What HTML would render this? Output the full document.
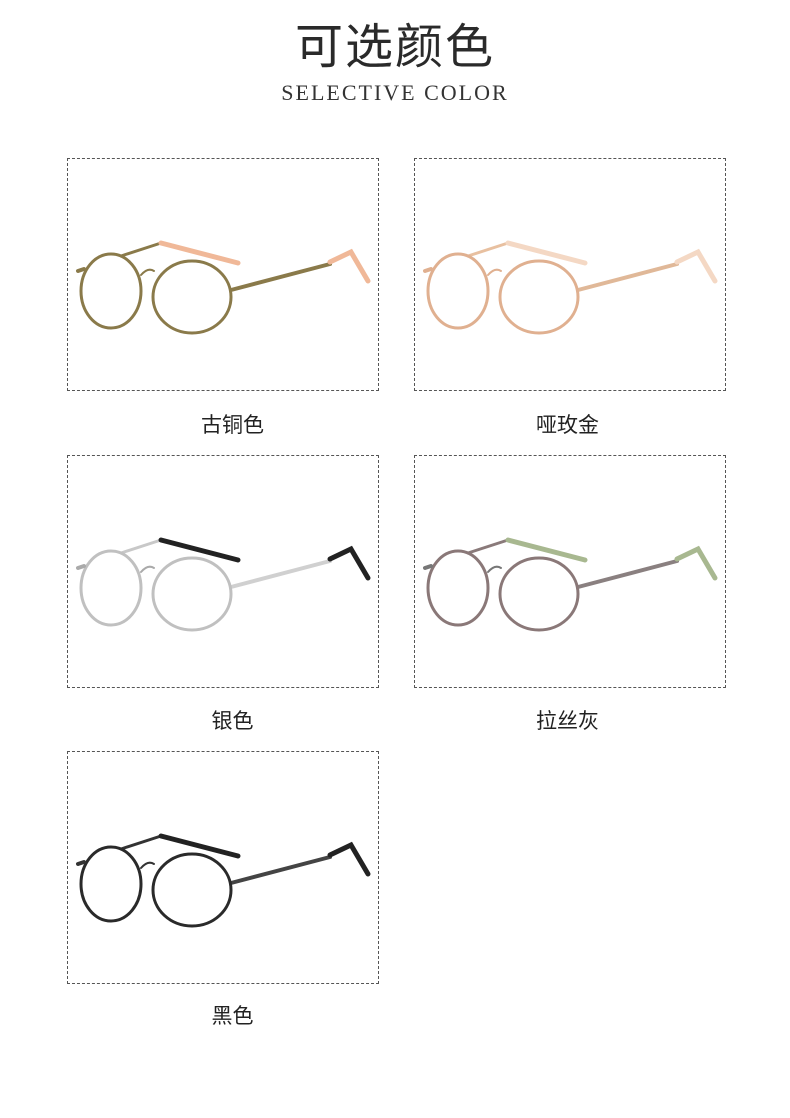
<!DOCTYPE html>
<html><head><meta charset="utf-8"><style>
body{margin:0;width:790px;height:1118px;background:#fff;position:relative;overflow:hidden;font-family:"Liberation Sans","Noto Sans CJK SC",sans-serif}
.t{position:absolute;left:0;width:790px;text-align:center}
.box{position:absolute;width:312px;height:233px;border:1px dashed #555;box-sizing:border-box}
.lab{position:absolute;width:313px;text-align:center;font-size:21px;color:#222}
svg{position:absolute;left:0;top:0}
</style></head><body>
<div class="t" style="top:7px;font-size:48px;color:#2a2a2a;letter-spacing:2px">可选颜色</div>
<div class="t" style="top:80px;font-family:'Liberation Serif',serif;font-size:22px;letter-spacing:2px;color:#333">SELECTIVE COLOR</div>

<div class="box" style="left:67px;top:158px"><svg width="312" height="233"><g fill="none" stroke-linecap="round">
<path d="M53 97 L93 84" stroke="#8a7a4a" stroke-width="3"/><path d="M93 84 L170 104" stroke="#f0b898" stroke-width="5"/>
<path d="M163 131 L262 105" stroke="#8a7a4a" stroke-width="4"/><path d="M262 103 L283 93 L300 122" stroke="#f0b898" stroke-width="5"/>
<ellipse cx="43" cy="132" rx="30" ry="37" stroke="#8a7a4a" stroke-width="3"/><ellipse cx="124" cy="138" rx="39" ry="36" stroke="#8a7a4a" stroke-width="3"/>
<path d="M73 116 Q80 108 86 112" stroke="#8a7a4a" stroke-width="2"/><path d="M10 112 L16 110" stroke="#8a7a4a" stroke-width="4"/></g></svg></div>
<div class="lab" style="left:76px;top:409px">古铜色</div>

<div class="box" style="left:414px;top:158px"><svg width="312" height="233"><g fill="none" stroke-linecap="round">
<path d="M53 97 L93 84" stroke="#e8c0a0" stroke-width="3"/><path d="M93 84 L170 104" stroke="#f4d8c4" stroke-width="5"/>
<path d="M163 131 L262 105" stroke="#e0b898" stroke-width="4"/><path d="M262 103 L283 93 L300 122" stroke="#f4d8c4" stroke-width="5"/>
<ellipse cx="43" cy="132" rx="30" ry="37" stroke="#e0b090" stroke-width="3"/><ellipse cx="124" cy="138" rx="39" ry="36" stroke="#e0b090" stroke-width="3"/>
<path d="M73 116 Q80 108 86 112" stroke="#e0b090" stroke-width="2"/><path d="M10 112 L16 110" stroke="#e0b090" stroke-width="4"/></g></svg></div>
<div class="lab" style="left:411px;top:409px">哑玫金</div>

<div class="box" style="left:67px;top:455px"><svg width="312" height="233"><g fill="none" stroke-linecap="round">
<path d="M53 97 L93 84" stroke="#c8c8c8" stroke-width="3"/><path d="M93 84 L170 104" stroke="#222" stroke-width="5"/>
<path d="M163 131 L262 105" stroke="#d0d0d0" stroke-width="4"/><path d="M262 103 L283 93 L300 122" stroke="#222" stroke-width="5"/>
<ellipse cx="43" cy="132" rx="30" ry="37" stroke="#c0c0c0" stroke-width="3"/><ellipse cx="124" cy="138" rx="39" ry="36" stroke="#c0c0c0" stroke-width="3"/>
<path d="M73 116 Q80 108 86 112" stroke="#aaa" stroke-width="2"/><path d="M10 112 L16 110" stroke="#aaa" stroke-width="4"/></g></svg></div>
<div class="lab" style="left:76px;top:705px">银色</div>

<div class="box" style="left:414px;top:455px"><svg width="312" height="233"><g fill="none" stroke-linecap="round">
<path d="M53 97 L93 84" stroke="#8a7a7a" stroke-width="3"/><path d="M93 84 L170 104" stroke="#a8b890" stroke-width="5"/>
<path d="M163 131 L262 105" stroke="#8a8080" stroke-width="4"/><path d="M262 103 L283 93 L300 122" stroke="#a8b890" stroke-width="5"/>
<ellipse cx="43" cy="132" rx="30" ry="37" stroke="#8a7878" stroke-width="3"/><ellipse cx="124" cy="138" rx="39" ry="36" stroke="#8a7878" stroke-width="3"/>
<path d="M73 116 Q80 108 86 112" stroke="#777" stroke-width="2"/><path d="M10 112 L16 110" stroke="#777" stroke-width="4"/></g></svg></div>
<div class="lab" style="left:411px;top:705px">拉丝灰</div>

<div class="box" style="left:67px;top:751px"><svg width="312" height="233"><g fill="none" stroke-linecap="round">
<path d="M53 97 L93 84" stroke="#333" stroke-width="3"/><path d="M93 84 L170 104" stroke="#222" stroke-width="5"/>
<path d="M163 131 L262 105" stroke="#444" stroke-width="4"/><path d="M262 103 L283 93 L300 122" stroke="#222" stroke-width="5"/>
<ellipse cx="43" cy="132" rx="30" ry="37" stroke="#2a2a2a" stroke-width="3"/><ellipse cx="124" cy="138" rx="39" ry="36" stroke="#2a2a2a" stroke-width="3"/>
<path d="M73 116 Q80 108 86 112" stroke="#333" stroke-width="2"/><path d="M10 112 L16 110" stroke="#333" stroke-width="4"/></g></svg></div>
<div class="lab" style="left:76px;top:1000px">黑色</div>
</body></html>
